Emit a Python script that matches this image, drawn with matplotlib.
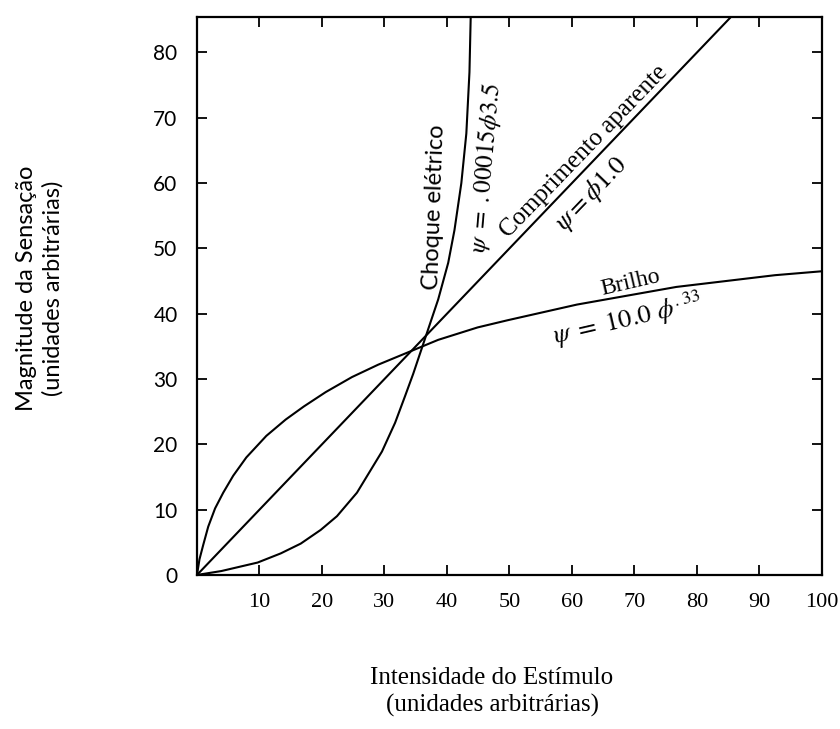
import matplotlib
matplotlib.use("Agg")
import matplotlib.pyplot as plt

# Dados (lei de potência de Stevens)
phi_brilho = [0, 0.4, 1.0, 1.8, 2.9, 4.2, 5.8, 7.9, 11.1, 14.2, 17.1, 20.6, 24.8, 29.0,
              33.8, 38.6, 44.9, 49.7, 60.8, 76.7, 92.5, 100]
psi_brilho = [0, 2.4, 4.6, 7.4, 10.2, 12.6, 15.2, 18.0, 21.3, 23.8, 25.8, 28.0, 30.3, 32.2,
              34.1, 36.0, 37.9, 39.0, 41.4, 44.1, 45.9, 46.5]

phi_compr = [0, 85.5]
psi_compr = [0, 85.5]

phi_choque = [0, 3.9, 9.7, 13.4, 16.6, 19.8, 22.4, 25.6, 29.6, 31.7, 33.3, 34.6,
              35.9, 37.3, 38.6, 40.2, 41.2, 42.3, 43.1, 43.6, 43.8]
psi_choque = [0, 0.6, 1.9, 3.3, 4.8, 6.9, 9.0, 12.6, 18.9, 23.3, 27.4, 30.8,
              34.5, 38.5, 42.2, 47.8, 52.8, 60.0, 67.6, 77.0, 85.5]

xticks = [10, 20, 30, 40, 50, 60, 70, 80, 90, 100]
yticks = [0, 10, 20, 30, 40, 50, 60, 70, 80]

plt.rcParams["mathtext.fontset"] = "stix"
serif = "Liberation Serif"
sans = "Lato"

fig = plt.figure(figsize=(8.4, 7.29), dpi=100)
ax = fig.add_axes([0.2345, 0.2113, 0.744, 0.766])

estilo = dict(color="black", lw=1.5, solid_joinstyle="round", solid_capstyle="round")
ax.plot(phi_brilho, psi_brilho, **estilo)
ax.plot(phi_compr, psi_compr, **estilo)
ax.plot(phi_choque, psi_choque, **estilo)

ax.set_xlim(0, 100)
ax.set_ylim(0, 85.5)

for s in ax.spines.values():
    s.set_linewidth(1.6)

# ticks para dentro nos quatro lados
ax.set_xticks(xticks)
ax.set_yticks(yticks)
ax.tick_params(direction="in", length=7, width=1.3, top=True, right=True)
ax.tick_params(axis="x", pad=13)
ax.tick_params(axis="y", pad=14)
for lab in ax.get_xticklabels():
    lab.set_fontfamily(serif)
    lab.set_fontsize(16)
for lab in ax.get_yticklabels():
    lab.set_fontfamily(sans)
    lab.set_fontsize(15)

# rótulos das curvas
ax.text(38.0, 56.3, "Choque elétrico", family=sans, fontsize=17,
        rotation=88, ha="center", va="center", rotation_mode="anchor")
ax.text(46.3, 62.3, r"$\psi\ =\ .00015\phi 3.5$", fontsize=18,
        rotation=85, ha="center", va="center", rotation_mode="anchor")
ax.text(61.9, 64.8, "Comprimento aparente", family=serif, fontsize=18,
        rotation=46, ha="center", va="center", rotation_mode="anchor")
ax.text(63.2, 58.3, r"$\psi = \phi 1.0$", fontsize=19,
        rotation=46, ha="center", va="center", rotation_mode="anchor")
ax.text(69.3, 44.7, "Brilho", family=serif, fontsize=17,
        rotation=13, ha="center", va="center", rotation_mode="anchor")
ax.text(69.0, 39.1, r"$\psi\ =\ 10.0\ \phi^{.33}$", fontsize=19,
        rotation=13, ha="center", va="center", rotation_mode="anchor")

# títulos dos eixos
fig.text(40 / 840, 1 - 288 / 729, "Magnitude da Sensação\n(unidades arbitrárias)",
         family=sans, fontsize=17, rotation=90, ha="center", va="center",
         multialignment="center", linespacing=1.3)
fig.text(492 / 840, 1 - 692 / 729, "Intensidade do Estímulo\n(unidades arbitrárias)",
         family=serif, fontsize=18, ha="center", va="center",
         multialignment="center", linespacing=1.3)

fig.savefig("out.png", dpi=100)
